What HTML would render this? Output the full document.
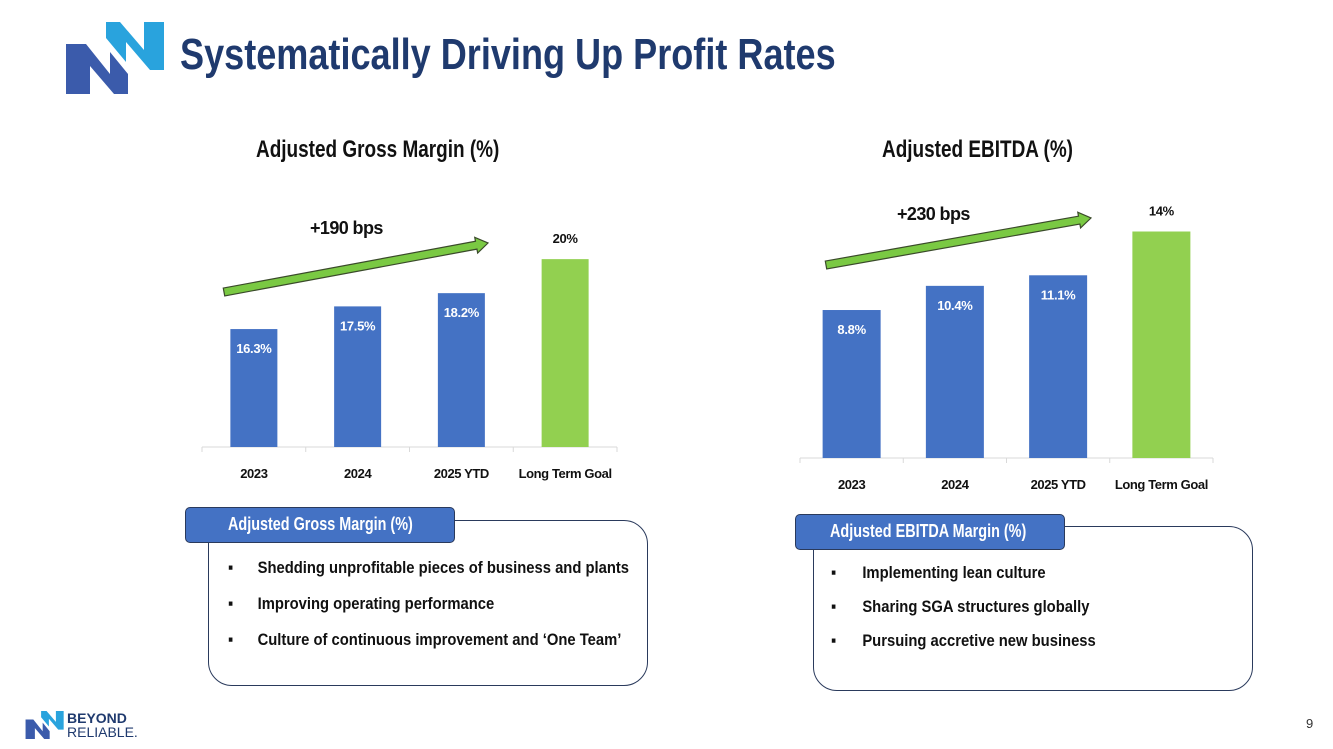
<!DOCTYPE html>
<html><head><meta charset="utf-8"><style>
body{margin:0;width:1333px;height:749px;background:#fff;overflow:hidden;position:relative;font-family:"Liberation Sans",sans-serif;}
.t{position:absolute;font-weight:bold;white-space:nowrap;transform-origin:0 0}
</style></head><body>
<svg style="position:absolute;left:66px;top:22px" width="100" height="72" viewBox="0 0 100 72">
<polygon points="40,0 54,0 78,28 78,0 98,0 98,48 84,48 60,20 60,40 40,16" fill="#29a3dd"/>
<polygon points="0,22 20,22 44,52 44,30 62,52 62,72 48,72 24,44 24,72 0,72" fill="#3b5bab"/>
</svg>
<div class="t" style="left:180px;top:30px;font-size:44px;color:#1f3a6e;transform:scaleX(0.82)">Systematically Driving Up Profit Rates</div>
<div class="t" style="left:256px;top:136px;font-size:24px;color:#111;transform:scaleX(0.79)">Adjusted Gross Margin (%)</div>
<div class="t" style="left:882px;top:136px;font-size:24px;color:#111;transform:scaleX(0.79)">Adjusted EBITDA (%)</div>
<svg id="charts" style="position:absolute;left:0;top:0" width="1333" height="749"></svg>

<div style="position:absolute;left:208px;top:520px;width:438px;height:164px;border:1.5px solid #2a3a5c;border-radius:24px"></div>
<div style="position:absolute;left:185px;top:507px;width:268px;height:34px;background:#4472c4;border:1.5px solid #2a3a5c;border-radius:5px"></div>
<div class="t" style="left:228px;top:514px;color:#fff;font-size:18px;transform:scaleX(0.8)">Adjusted Gross Margin (%)</div>
<div class="t" style="left:228px;top:550px;font-size:17px;color:#111;line-height:36px;transform:scaleX(0.87)">
<div><span style="display:inline-block;width:34px">▪</span>Shedding unprofitable pieces of business and plants</div>
<div><span style="display:inline-block;width:34px">▪</span>Improving operating performance</div>
<div><span style="display:inline-block;width:34px">▪</span>Culture of continuous improvement and ‘One Team’</div></div>

<div style="position:absolute;left:813px;top:526px;width:438px;height:163px;border:1.5px solid #2a3a5c;border-radius:24px"></div>
<div style="position:absolute;left:795px;top:514px;width:268px;height:34px;background:#4472c4;border:1.5px solid #2a3a5c;border-radius:5px"></div>
<div class="t" style="left:830px;top:521px;color:#fff;font-size:18px;transform:scaleX(0.8)">Adjusted EBITDA Margin (%)</div>
<div class="t" style="left:831px;top:556px;font-size:17px;color:#111;line-height:34px;transform:scaleX(0.87)">
<div><span style="display:inline-block;width:36px">▪</span>Implementing lean culture</div>
<div><span style="display:inline-block;width:36px">▪</span>Sharing SGA structures globally</div>
<div><span style="display:inline-block;width:36px">▪</span>Pursuing accretive new business</div></div>

<svg style="position:absolute;left:25px;top:711px" width="40" height="28" viewBox="0 0 100 72">
<polygon points="40,0 54,0 78,28 78,0 98,0 98,48 84,48 60,20 60,40 40,16" fill="#29a3dd"/>
<polygon points="0,22 20,22 44,52 44,30 62,52 62,72 48,72 24,44 24,72 0,72" fill="#3b5bab"/></svg>
<div class="t" style="left:67px;top:710px;font-size:14px;color:#1f3a6e">BEYOND</div>
<div class="t" style="left:67px;top:724px;font-size:14px;font-weight:normal;color:#1f3a6e">RELIABLE.</div>
<div class="t" style="left:1306px;top:716px;font-weight:normal;font-size:13px;color:#333">9</div>

<script>
const categories=["2023","2024","2025 YTD","Long Term Goal"];
const gmValues=[16.3,17.5,18.2,20];
const gmLabels=["16.3%","17.5%","18.2%","20%"];
const ebValues=[8.8,10.4,11.1,14];
const ebLabels=["8.8%","10.4%","11.1%","14%"];
const svg=document.getElementById('charts');
const NS="http://www.w3.org/2000/svg";
const FF='Liberation Sans, sans-serif';
function mk(tag,attrs){const e=document.createElementNS(NS,tag);for(const k in attrs)e.setAttribute(k,attrs[k]);svg.appendChild(e);return e;}
function chart(prefix,vals,labels,x0,x1,base,min,pxPer,barW){
  const slot=(x1-x0)/categories.length;
  const ax=mk('line',{x1:x0,x2:x1,y1:base,y2:base,stroke:'#d9d9d9','stroke-width':1});
  
  
  for(let i=0;i<=categories.length;i++){const tk=mk('line',{x1:x0+i*slot,x2:x0+i*slot,y1:base,y2:base+5,stroke:'#d9d9d9'});
    
    }
  vals.forEach((v,i)=>{
    const h=(v-min)*pxPer, cx=x0+slot*(i+0.5), last=i===vals.length-1;
    const r=mk('rect',{x:cx-barW/2,y:base-h,width:barW,height:h,fill:last?'#92d050':'#4472c4'});
    
    
    const t=mk('text',{x:cx,y:last?base-h-16:base-h+24,'text-anchor':'middle','font-size':13,'font-weight':'bold',fill:last?'#111':'#fff','font-family':FF,'letter-spacing':'-0.3'});
    t.textContent=labels[i];
    
    
    const c=mk('text',{x:cx,y:base+31,'text-anchor':'middle','font-size':13,'font-weight':'bold',fill:'#111','font-family':FF,'letter-spacing':'-0.4'});
    c.textContent=categories[i];
    
    
  });
}
chart('gm',gmValues,gmLabels,202,617,447,10.06,18.9,47);
chart('eb',ebValues,ebLabels,800,1213,458,-1,15.1,58);
function arrow(name,x1,y1,x2,y2,label,lx,ly){
  const a=Math.atan2(y2-y1,x2-x1),L=Math.hypot(x2-x1,y2-y1),w=4,hw=8,hl=12;
  const pts=[[0,-w],[L-hl,-w],[L-hl,-hw],[L,0],[L-hl,hw],[L-hl,w],[0,w]].map(([u,v])=>[x1+u*Math.cos(a)-v*Math.sin(a),y1+u*Math.sin(a)+v*Math.cos(a)]);
  const p=mk('polygon',{points:pts.map(q=>q.join(',')).join(' '),fill:'#7ac943',stroke:'#3a4a2a','stroke-width':1.2});
  
  
  const t=mk('text',{x:lx,y:ly,'font-size':18,'font-weight':'bold',fill:'#111','font-family':FF,'letter-spacing':'-0.6'});
  t.textContent=label;
  
  
}
arrow('gm',224,292,488,243,'+190 bps',310,234);
arrow('eb',826,265,1091,218,'+230 bps',897,220);
</script>
</body></html>
